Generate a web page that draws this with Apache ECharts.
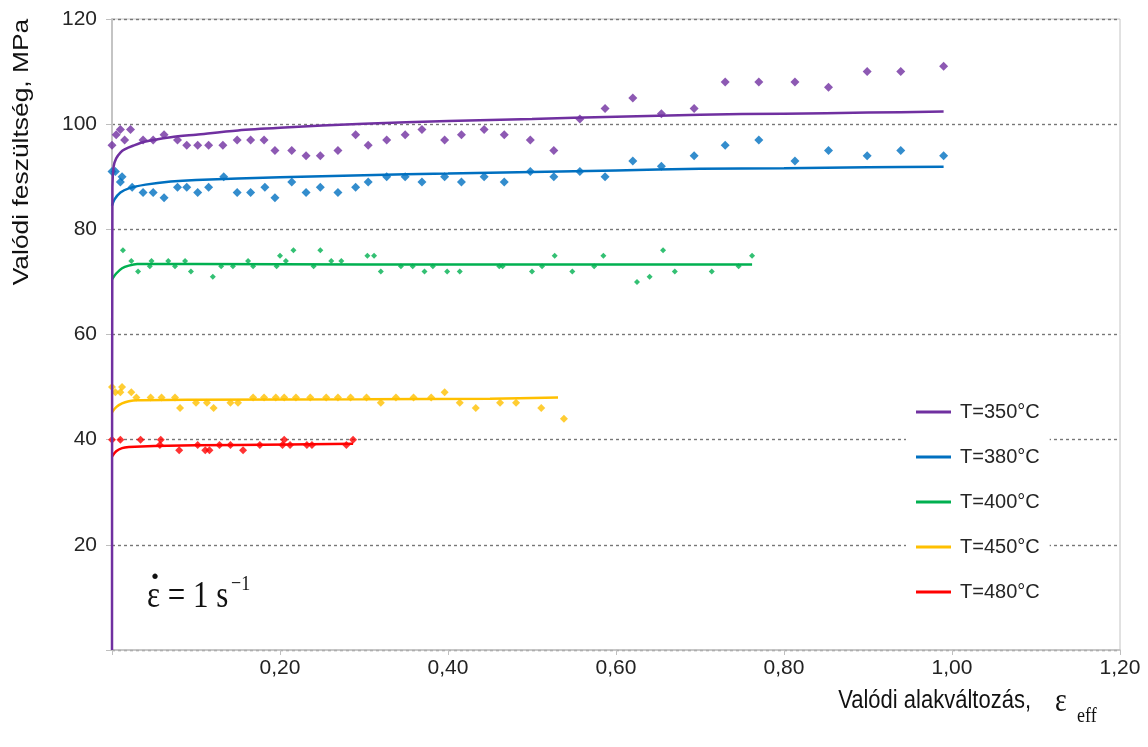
<!DOCTYPE html>
<html>
<head>
<meta charset="utf-8">
<script src="https://cdn.jsdelivr.net/npm/echarts@6/dist/echarts.min.js"></script>
<style>
  html, body { margin: 0; padding: 0; background: #fff; }
  #chart { width: 1148px; height: 747px; }
</style>
</head>
<body>
<div id="chart"></div>
<script>
// axis ticks
const xTicks = [0, 0.2, 0.4, 0.6, 0.8, 1.0, 1.2];
const yTicks = [0, 20, 40, 60, 80, 100, 120];

const names = ['T=350°C', 'T=380°C', 'T=400°C', 'T=450°C', 'T=480°C'];
const colors = ['#7030A0', '#0070C0', '#00B050', '#FFC000', '#FF0000'];

// fitted curves (strain, stress)
const fit350x = [0, 0.0005, 0.002, 0.005, 0.01, 0.015, 0.025, 0.04, 0.07, 0.1, 0.15, 0.2, 0.3, 0.4, 0.5, 0.6, 0.7, 0.8, 0.9, 0.99];
const fit350y = [0, 88, 92, 93.5, 94.6, 95.2, 95.9, 96.7, 97.5, 98, 98.8, 99.3, 100.1, 100.6, 101, 101.4, 101.8, 102, 102.2, 102.4];
const fit380x = [0, 0.003, 0.01, 0.02, 0.04, 0.07, 0.1, 0.2, 0.3, 0.4, 0.5, 0.6, 0.7, 0.8, 0.9, 0.99];
const fit380y = [84.5, 85.7, 87, 87.8, 88.5, 89.1, 89.4, 89.9, 90.3, 90.6, 90.9, 91.2, 91.5, 91.6, 91.8, 91.9];
const fit400x = [0, 0.005, 0.012, 0.02, 0.03, 0.1, 0.3, 0.5, 0.762];
const fit400y = [70.5, 71.6, 72.6, 73.1, 73.4, 73.4, 73.3, 73.3, 73.3];
const fit450x = [0, 0.005, 0.012, 0.02, 0.03, 0.1, 0.3, 0.45, 0.531];
const fit450y = [45.2, 46.2, 46.9, 47.3, 47.5, 47.6, 47.7, 47.8, 48.0];
const fit480x = [0, 0.005, 0.012, 0.02, 0.05, 0.15, 0.287];
const fit480y = [36.8, 37.8, 38.4, 38.6, 38.8, 39.0, 39.2];

// measured points
const pts350x = [0, 0.005, 0.01, 0.015, 0.022, 0.037, 0.049, 0.062, 0.078, 0.089, 0.102, 0.115, 0.132, 0.149, 0.165, 0.181, 0.194, 0.214, 0.231, 0.248, 0.269, 0.29, 0.305, 0.327, 0.349, 0.369, 0.396, 0.416, 0.443, 0.467, 0.498, 0.526, 0.557, 0.587, 0.62, 0.654, 0.693, 0.73, 0.77, 0.813, 0.853, 0.899, 0.939, 0.99];
const pts350y = [96, 98, 99, 97, 99, 97, 97, 98, 97, 96, 96, 96, 96, 97, 97, 97, 95, 95, 94, 94, 95, 98, 96, 97, 98, 99, 97, 98, 99, 98, 97, 95, 101, 103, 105, 102, 103, 108, 108, 108, 107, 110, 110, 111];
const pts380x = [0, 0.004, 0.012, 0.01, 0.024, 0.037, 0.049, 0.062, 0.078, 0.089, 0.102, 0.115, 0.133, 0.149, 0.165, 0.182, 0.194, 0.214, 0.231, 0.248, 0.269, 0.29, 0.305, 0.327, 0.349, 0.369, 0.396, 0.416, 0.443, 0.467, 0.498, 0.526, 0.557, 0.587, 0.62, 0.654, 0.693, 0.73, 0.77, 0.813, 0.853, 0.899, 0.939, 0.99];
const pts380y = [91, 91, 90, 89, 88, 87, 87, 86, 88, 88, 87, 88, 90, 87, 87, 88, 86, 89, 87, 88, 87, 88, 89, 90, 90, 89, 90, 89, 90, 89, 91, 90, 91, 90, 93, 92, 94, 96, 97, 93, 95, 94, 95, 94];
const pts400x = [0.013, 0.023, 0.031, 0.045, 0.047, 0.067, 0.075, 0.087, 0.094, 0.12, 0.13, 0.144, 0.162, 0.168, 0.196, 0.2, 0.207, 0.216, 0.24, 0.248, 0.261, 0.273, 0.304, 0.312, 0.32, 0.344, 0.358, 0.372, 0.382, 0.399, 0.414, 0.461, 0.465, 0.5, 0.512, 0.527, 0.548, 0.574, 0.585, 0.625, 0.64, 0.656, 0.67, 0.714, 0.746, 0.762];
const pts400y = [76, 74, 72, 73, 74, 74, 73, 74, 72, 71, 73, 73, 74, 73, 73, 75, 74, 76, 73, 76, 74, 74, 75, 75, 72, 73, 73, 72, 73, 72, 72, 73, 73, 72, 73, 75, 72, 73, 75, 70, 71, 76, 72, 72, 73, 75];
const pts450x = [0, 0.004, 0.01, 0.012, 0.023, 0.029, 0.046, 0.059, 0.075, 0.081, 0.1, 0.113, 0.121, 0.141, 0.15, 0.168, 0.181, 0.195, 0.205, 0.219, 0.236, 0.255, 0.269, 0.284, 0.303, 0.32, 0.338, 0.359, 0.38, 0.396, 0.414, 0.433, 0.462, 0.481, 0.511, 0.538];
const pts450y = [50, 49, 49, 50, 49, 48, 48, 48, 48, 46, 47, 47, 46, 47, 47, 48, 48, 48, 48, 48, 48, 48, 48, 48, 48, 47, 48, 48, 48, 49, 47, 46, 47, 47, 46, 44];
const pts480x = [0, 0.01, 0.034, 0.058, 0.057, 0.08, 0.102, 0.111, 0.116, 0.128, 0.141, 0.156, 0.176, 0.203, 0.205, 0.212, 0.232, 0.238, 0.279, 0.287];
const pts480y = [40, 40, 40, 40, 39, 38, 39, 38, 38, 39, 39, 38, 39, 39, 40, 39, 39, 39, 39, 40];

const zip = (xs, ys) => xs.map((x, i) => [x, ys[i]]);

const fits = [
  zip(fit350x, fit350y), zip(fit380x, fit380y), zip(fit400x, fit400y),
  zip(fit450x, fit450y), zip(fit480x, fit480y)
];
const points = [
  zip(pts350x, pts350y), zip(pts380x, pts380y), zip(pts400x, pts400y),
  zip(pts450x, pts450y), zip(pts480x, pts480y)
];
const markSize = [9, 9, 6, 8, 8];

const sans = 'Liberation Sans, Arial, sans-serif';
const serif = 'Liberation Serif, Times New Roman, serif';

const chart = echarts.init(document.getElementById('chart'), null, { renderer: 'canvas' });

const series = [];
names.forEach((n, i) => {
  series.push({
    name: n + ' mérés',
    type: 'scatter',
    data: points[i],
    symbol: 'diamond',
    symbolSize: markSize[i],
    itemStyle: { color: colors[i] },
    z: 2
  });
});
// draw lines last-to-first so the 350 curve sits on top
for (let i = names.length - 1; i >= 0; i--) {
  series.push({
    name: names[i],
    type: 'line',
    data: fits[i],
    showSymbol: false,
    symbol: 'none',
    smooth: 0.3,
    lineStyle: { color: colors[i], width: 2.5 },
    itemStyle: { color: colors[i] },
    z: 3 + (names.length - i)
  });
}

chart.setOption({
  animation: false,
  backgroundColor: '#fff',
  grid: {
    left: 112, right: 28, top: 19, bottom: 97,
    show: true, borderColor: '#c4c4c4', borderWidth: 1
  },
  xAxis: {
    type: 'value',
    min: xTicks[0], max: xTicks[xTicks.length - 1], interval: 0.2,
    axisLine: { lineStyle: { color: '#bfbfbf', width: 1.5 } },
    axisTick: { show: true, length: 5, lineStyle: { color: '#bfbfbf' } },
    splitLine: { show: false },
    axisLabel: {
      margin: 8,
      color: '#222',
      fontFamily: 'Liberation Sans Narrow, Arial Narrow, sans-serif',
      fontSize: 21,
      formatter: v => (v === 0 ? '' : v.toFixed(2).replace('.', ','))
    }
  },
  yAxis: {
    type: 'value',
    min: yTicks[0], max: yTicks[yTicks.length - 1], interval: 20,
    axisLine: { show: true, lineStyle: { color: '#c4c4c4', width: 2 } },
    axisTick: { show: true, length: 6, lineStyle: { color: '#bfbfbf' } },
    splitLine: { show: true, lineStyle: { color: '#777', type: [3, 3], width: 1.4 } },
    axisLabel: {
      margin: 15,
      color: '#262626',
      fontFamily: sans,
      fontSize: 21,
      formatter: v => (v === 0 ? '' : String(v))
    }
  },
  legend: {
    data: names,
    orient: 'vertical',
    left: 906,
    top: 396,
    padding: [6, 10, 6, 10],
    backgroundColor: '#fff',
    icon: 'rect',
    itemWidth: 35,
    itemHeight: 3,
    itemGap: 25,
    textStyle: { fontFamily: sans, fontSize: 20, color: '#262626', padding: [0, 0, 0, 4] }
  },
  graphic: [
    {
      type: 'text', x: 22, y: 152, rotation: Math.PI / 2, scaleX: 1.2,
      style: { text: 'Valódi feszültség, MPa', font: '22px ' + sans, fill: '#111', align: 'center', verticalAlign: 'middle' }
    },
    {
      type: 'text', x: 1031, y: 701, scaleY: 1.15,
      style: { text: 'Valódi alakváltozás,', font: '22px ' + sans, fill: '#111', align: 'right', verticalAlign: 'middle' }
    },
    {
      type: 'text', x: 1055, y: 702, scaleY: 1.2,
      style: { text: 'ε', font: '28px ' + serif, fill: '#111', align: 'left', verticalAlign: 'middle' }
    },
    {
      type: 'text', x: 1077, y: 716, scaleY: 1.2,
      style: { text: 'eff', font: '18px ' + serif, fill: '#111', align: 'left', verticalAlign: 'middle' }
    },
    {
      type: 'text', x: 147, y: 597, scaleY: 1.25,
      style: { text: 'ε = 1 s', font: '31px ' + serif, fill: '#111', align: 'left', verticalAlign: 'middle' }
    },
    {
      type: 'text', x: 149, y: 590,
      style: { text: '˙', font: 'bold 36px ' + serif, fill: '#111', align: 'left', verticalAlign: 'middle' }
    },
    {
      type: 'text', x: 231, y: 584, scaleY: 1.2,
      style: { text: '−1', font: '18px ' + serif, fill: '#111', align: 'left', verticalAlign: 'middle' }
    }
  ],
  series: series
});
</script>
</body>
</html>
